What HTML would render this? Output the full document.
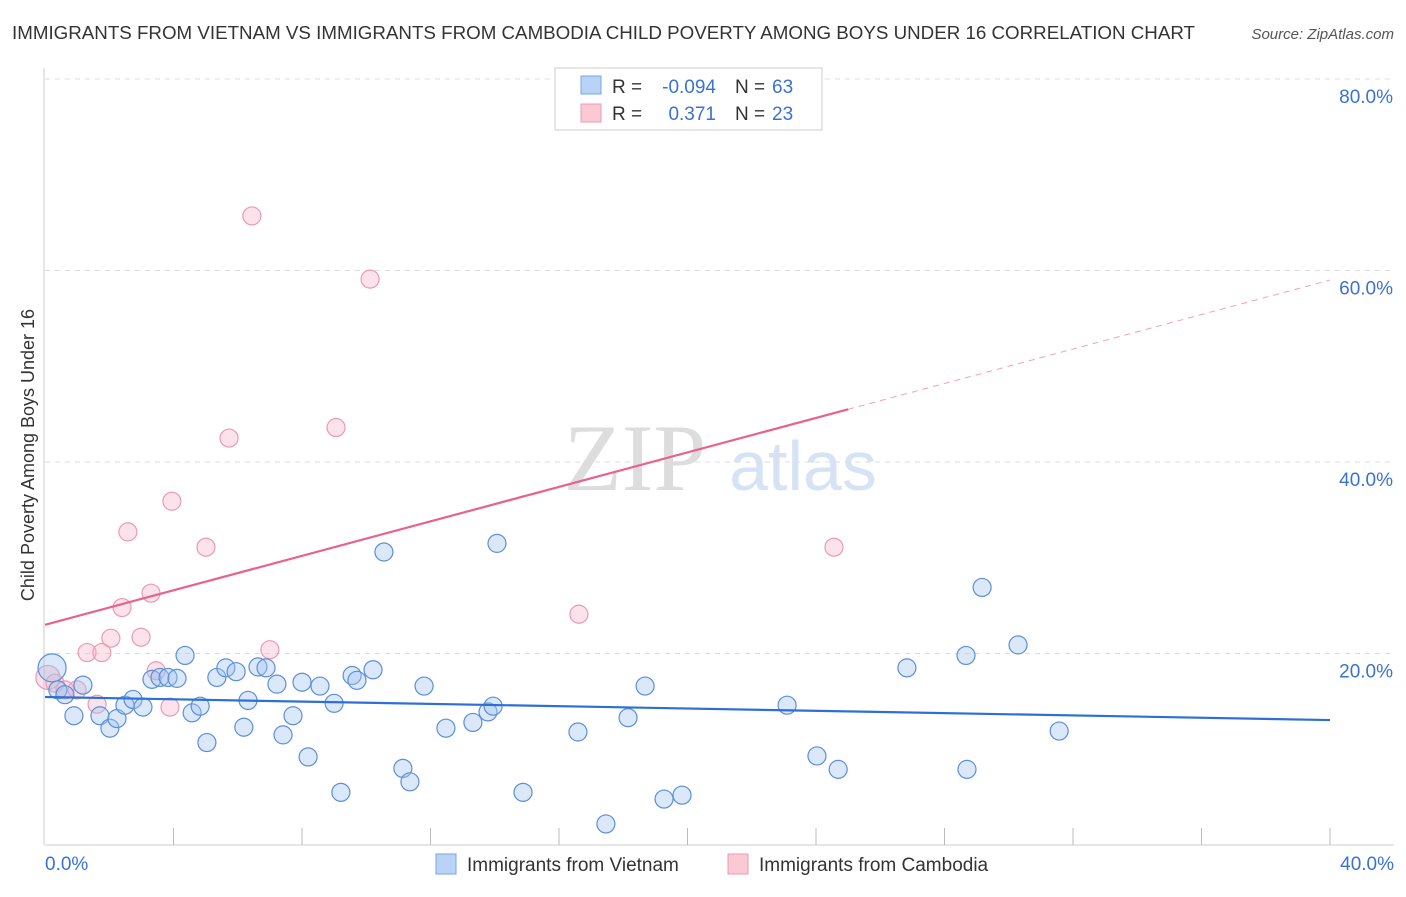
<!DOCTYPE html>
<html><head><meta charset="utf-8"><style>
body{margin:0;background:#fff;font-family:"Liberation Sans",sans-serif;}
</style></head><body>
<svg id="chart" width="1406" height="892" xmlns="http://www.w3.org/2000/svg">
<text x="12" y="39" font-size="18" fill="#333" textLength="1183" lengthAdjust="spacingAndGlyphs">IMMIGRANTS FROM VIETNAM VS IMMIGRANTS FROM CAMBODIA CHILD POVERTY AMONG BOYS UNDER 16 CORRELATION CHART</text>
<text x="1394" y="39" font-size="15" fill="#555" font-style="italic" text-anchor="end">Source: ZipAtlas.com</text>
<text x="635" y="490" font-size="95" fill="#ddd" font-family="Liberation Serif" text-anchor="middle">ZIP</text>
<text x="803" y="490" font-size="70" fill="#d5e3f5" text-anchor="middle">atlas</text>
<text transform="translate(34,455) rotate(-90)" font-size="18" fill="#333" text-anchor="middle">Child Poverty Among Boys Under 16</text>
<g id="grid"></g><g id="marks"></g>
<g>
<rect x="555" y="68" width="267" height="62" fill="#fff" stroke="#ccc"/>
<rect x="581" y="76" width="20" height="18" fill="#b8d3f5" stroke="#7aa6e0"/>
<rect x="581" y="104" width="20" height="18" fill="#fbc8d6" stroke="#ec9ab2"/>
<text x="612" y="93" font-size="19" fill="#333">R =</text>
<text x="716" y="93" font-size="19" fill="#3a72d4" text-anchor="end">-0.094</text>
<text x="735" y="93" font-size="19" fill="#333">N =</text>
<text x="772" y="93" font-size="19" fill="#3a72d4">63</text>
<text x="612" y="120" font-size="19" fill="#333">R =</text>
<text x="716" y="120" font-size="19" fill="#3a72d4" text-anchor="end">0.371</text>
<text x="735" y="120" font-size="19" fill="#333">N =</text>
<text x="772" y="120" font-size="19" fill="#3a72d4">23</text>
</g>
<g>
<rect x="436" y="854" width="20" height="20" fill="#b8d3f5" stroke="#7aa6e0"/>
<text x="467" y="871" font-size="19" fill="#333">Immigrants from Vietnam</text>
<rect x="728" y="854" width="20" height="20" fill="#fbc8d6" stroke="#ec9ab2"/>
<text x="759" y="871" font-size="19" fill="#333">Immigrants from Cambodia</text>
</g>
</svg>
<script>
const xTickLabels=["0.0%","40.0%"];
const yTicks=[20,40,60,80];
const yTickLabels=["20.0%","40.0%","60.0%","80.0%"];
const vietX=[0.22,0.40,0.62,1.18,0.90,1.71,2.02,2.24,2.49,2.74,3.05,3.33,3.58,3.83,4.11,4.36,4.58,4.83,5.04,5.35,5.63,5.95,6.19,6.32,6.63,6.88,7.22,7.41,7.72,8.00,8.19,8.56,9.00,9.21,9.56,9.71,10.21,10.55,11.14,11.36,11.80,12.48,13.32,13.79,13.95,14.07,14.88,16.59,17.46,18.15,18.68,19.27,19.83,23.10,24.03,24.69,26.83,28.67,28.70,29.17,30.29,31.57];
const vietY=[18.5,16.2,15.7,16.7,13.5,13.5,12.2,13.2,14.6,15.2,14.4,17.3,17.5,17.5,17.4,19.8,13.8,14.5,10.7,17.5,18.5,18.1,12.3,15.1,18.6,18.5,16.8,11.5,13.5,17.0,9.2,16.6,14.8,5.5,17.7,17.2,18.3,30.6,8.0,6.6,16.6,12.2,12.8,13.9,14.5,31.5,5.5,11.8,2.2,13.3,16.6,4.8,5.2,14.6,9.3,7.9,18.5,19.8,7.9,26.9,20.9,11.9];
const cambX=[0.09,0.31,0.62,1.00,1.62,1.31,1.77,2.05,2.40,2.58,2.99,3.30,3.46,3.89,3.95,5.01,5.73,6.44,7.00,9.06,10.12,16.62,24.56];
const cambY=[17.5,16.9,16.2,16.2,14.7,20.1,20.1,21.6,24.8,32.7,21.7,26.3,18.2,14.4,35.9,31.1,42.5,65.7,20.4,43.6,59.1,24.1,31.1];
const vietTrend=[15.46,13.05];
const cambTrend=[23.0,59.0];
const cambSolidEnd=25.0;
const NS="http://www.w3.org/2000/svg";
const X=v=>45+v/40*1285, Y=v=>845-v/20*191.5;
const grid=document.getElementById('grid'), marks=document.getElementById('marks');
function mk(tag,attrs,parent){const e=document.createElementNS(NS,tag);for(const k in attrs)e.setAttribute(k,attrs[k]);parent.appendChild(e);return e;}
yTicks.forEach((t,i)=>{
 const l=mk('line',{x1:45,x2:1394,y1:Y(t),y2:Y(t),stroke:'#ddd','stroke-dasharray':'5,5'},grid);
 
 
 const tx=mk('text',{x:1393,y:Y(t)+24,'font-size':19,fill:'#3a72d4','text-anchor':'end'},grid);
 tx.textContent=yTickLabels[i];
 
 
});
const ax=mk('line',{x1:45,x2:1394,y1:845,y2:845,stroke:'#ccc'},grid);


const ay=mk('line',{x1:44,x2:44,y1:68,y2:845,stroke:'#ccc'},grid);


for(let i=1;i<=10;i++){const t=mk('line',{x1:X(i*4),x2:X(i*4),y1:828,y2:845,stroke:'#bbb'},grid);
 
 }
[[0,'start',45],[40,'end',1394]].forEach((d,i)=>{const t=mk('text',{x:d[2],y:870,'font-size':19,fill:'#3a72d4','text-anchor':d[1]},grid);t.textContent=xTickLabels[i];
 
 });
cambX.forEach((x,i)=>{const c=mk('circle',{cx:X(x),cy:Y(cambY[i]),r:i==0?12:9,fill:'rgba(248,180,200,0.38)',stroke:'#ec9ab2','stroke-width':1.2},marks);
 
 });
vietX.forEach((x,i)=>{const c=mk('circle',{cx:X(x),cy:Y(vietY[i]),r:i==0?14:9,fill:'rgba(160,195,240,0.38)',stroke:'#5b8fdb','stroke-width':1.2},marks);
 
 });
const cy=x=>cambTrend[0]+(cambTrend[1]-cambTrend[0])*x/40;
const p1=mk('line',{x1:X(0),y1:Y(cambTrend[0]),x2:X(cambSolidEnd),y2:Y(cy(cambSolidEnd)),stroke:'#e8638c','stroke-width':2.2},marks);


const p2=mk('line',{x1:X(cambSolidEnd),y1:Y(cy(cambSolidEnd)),x2:X(40),y2:Y(cambTrend[1]),stroke:'#e8638c','stroke-width':1,'stroke-dasharray':'6,5',opacity:0.6},marks);


const b=mk('line',{x1:X(0),y1:Y(vietTrend[0]),x2:X(40),y2:Y(vietTrend[1]),stroke:'#2d6fd6','stroke-width':2.2},marks);


</script>
</body></html>
